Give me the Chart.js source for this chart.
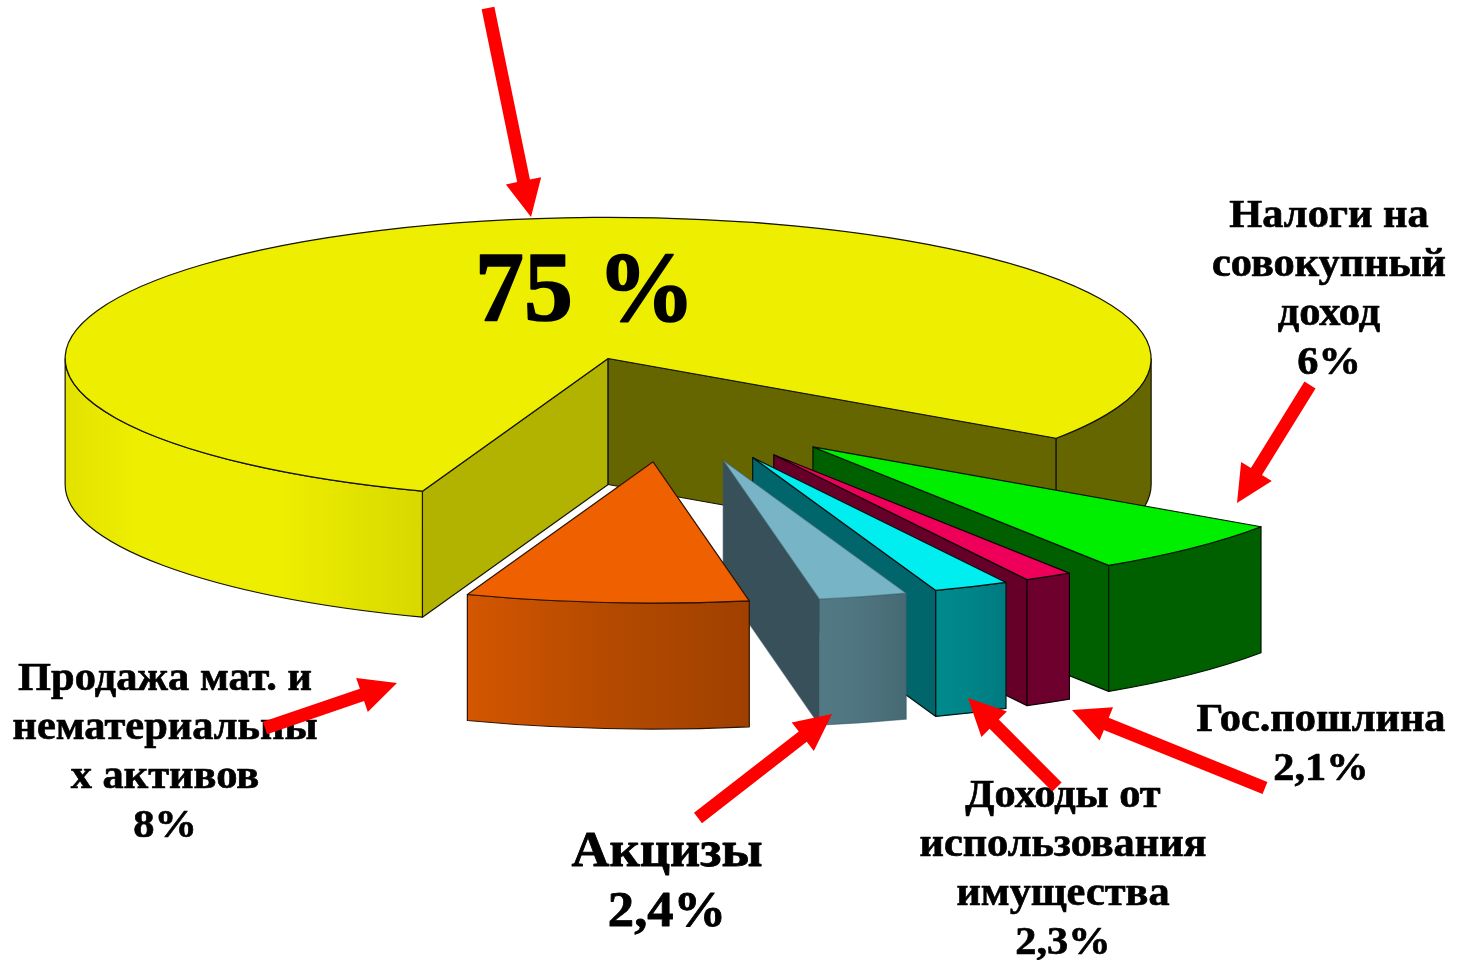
<!DOCTYPE html>
<html><head><meta charset="utf-8">
<style>html,body{margin:0;padding:0;background:#fff}canvas{display:block}</style>
<script src="https://cdn.jsdelivr.net/npm/chart.js@4"></script>
</head><body><canvas id="c" width="1465" height="960"></canvas>
<script>
// Categories in slice order (clockwise, starting at the front-left edge of the large slice)
const categories = ['Налоговые доходы', 'Налоги на совокупный доход', 'Гос.пошлина', 'Доходы от использования имущества', 'Акцизы', 'Продажа мат. и нематериальных активов'];
// Percentages printed on the chart
const printedPercents = ['75 %', '6%', '2,1%', '2,3%', '2,4%', '8%'];
// Slice sizes as actually drawn in the picture
const sliceShares = [79, 6.28, 1.44, 2.25, 2.64, 8.39];
const topColors = ['#eeee00', '#00ee00', '#ee005a', '#00eef0', '#76b4c6', '#ee6000'];
const startFaceColors = ['#b2b200', '#006000', '#660028', '#00666c', '#37505a', '#a04000'];
const endFaceColors = ['#666600', '#006000', '#660028', '#00666c', '#37505a', '#a04000'];
const wallLeftColors = ['#e2e200', '#006000', '#6e002e', '#008a8c', '#527a85', '#d45600'];
const wallMidColors = ['#eeee00', '#006000', '#6e002e', '#008488', '#4e747f', '#b44a00'];
const wallRightColors = ['#d8d800', '#006000', '#6e002e', '#007a80', '#466a74', '#a04000'];
const edgeColors = ['#141400', '#001400', '#140008', '#001414', 'rgba(60,90,100,.5)', '#301400'];

const SQUASH = 0.26, DEPTH = 126, EXPLODE = 204;
const labelBlocks = [
  {lines:['Налоги на','совокупный','доход'], pct:1, cx:1329, y0:227, lh:49, size:40, width:234},
  {lines:['Продажа мат. и','нематериальны','х активов'], pct:5, cx:165, y0:690, lh:49, size:40, width:305},
  {lines:['Акцизы'], pct:4, cx:667, y0:866, lh:60, size:50, width:191},
  {lines:['Доходы от','использования','имущества'], pct:3, cx:1063, y0:807, lh:49, size:40, width:287},
  {lines:['Гос.пошлина'], pct:2, cx:1321, y0:731, lh:49, size:40, width:249},
  {lines:[], pct:0, cx:585, y0:320, lh:0, size:100, width:220}
];
const arrows = [
  [488,8,531,217],[1310,385,1237,503],[265,728,397,683],[698,818,832,714],[1057,787,968,698],[1265,788,1072,710]
];

function visibleRanges(a1, a2){
  const out = [];
  for (let k=-2;k<=2;k++){
    const lo = Math.max(a1, k*2*Math.PI), hi = Math.min(a2, k*2*Math.PI+Math.PI);
    if (hi>lo) out.push([lo,hi]);
  }
  return out;
}
function drawSlice(ctx, arc, i){
  const mid = (arc.startAngle+arc.endAngle)/2, R = arc.outerRadius, ry = R*SQUASH;
  const cx = arc.x + Math.cos(mid)*EXPLODE, cy = arc.y + Math.sin(mid)*EXPLODE*SQUASH;
  const px = a => cx+Math.cos(a)*R, py = a => cy+Math.sin(a)*ry;
  const edge = edgeColors[i];
  ctx.lineWidth = 1.2; ctx.lineJoin='round';
  const face = (a, col) => {
    ctx.beginPath(); ctx.moveTo(cx,cy); ctx.lineTo(px(a),py(a)); ctx.lineTo(px(a),py(a)+DEPTH); ctx.lineTo(cx,cy+DEPTH); ctx.closePath();
    ctx.fillStyle = col; ctx.fill(); ctx.strokeStyle = edge; ctx.stroke();
  };
  if (Math.cos(arc.startAngle) < 0) face(arc.startAngle, startFaceColors[i]);
  if (Math.cos(arc.endAngle) > 0) face(arc.endAngle, endFaceColors[i]);
  visibleRanges(arc.startAngle, arc.endAngle).forEach(([lo,hi]) => {
    const x1 = px(hi), x2 = px(lo);
    ctx.beginPath();
    ctx.ellipse(cx,cy,R,ry,0,lo,hi);
    ctx.lineTo(px(hi),py(hi)+DEPTH);
    ctx.ellipse(cx,cy+DEPTH,R,ry,0,hi,lo,true);
    ctx.closePath();
    const dark = i===0 && lo % (2*Math.PI) < 1;
    if (dark) ctx.fillStyle = endFaceColors[0];
    else {
      const g = ctx.createLinearGradient(Math.min(x1,x2),0,Math.max(x1,x2),0);
      g.addColorStop(0,wallLeftColors[i]); g.addColorStop(i===0?0.2:0.5,wallMidColors[i]);
      if (i===0) g.addColorStop(0.6,wallMidColors[i]);
      g.addColorStop(1,wallRightColors[i]);
      ctx.fillStyle = g;
    }
    ctx.fill(); ctx.strokeStyle = edge; ctx.stroke();
  });
  // top surface: the library's arc element, placed on the tilted plane
  ctx.save();
  ctx.translate(cx, cy); ctx.scale(1, SQUASH); ctx.translate(-arc.x, -arc.y);
  arc.draw(ctx);
  ctx.restore();
  ctx.beginPath(); ctx.moveTo(cx,cy); ctx.ellipse(cx,cy,R,ry,0,arc.startAngle,arc.endAngle); ctx.closePath();
  ctx.strokeStyle = edge; ctx.stroke();
}
function drawArrow(ctx,[x1,y1,x2,y2]){
  const w=13, hw=36, hl=37, L=Math.hypot(x2-x1,y2-y1), ux=(x2-x1)/L, uy=(y2-y1)/L, nx=-uy, ny=ux;
  const bx=x2-ux*hl, by=y2-uy*hl;
  ctx.beginPath();
  ctx.moveTo(x1+nx*w/2,y1+ny*w/2); ctx.lineTo(bx+nx*w/2,by+ny*w/2);
  ctx.lineTo(bx+nx*hw/2,by+ny*hw/2); ctx.lineTo(x2,y2); ctx.lineTo(bx-nx*hw/2,by-ny*hw/2);
  ctx.lineTo(bx-nx*w/2,by-ny*w/2); ctx.lineTo(x1-nx*w/2,y1-ny*w/2); ctx.closePath();
  ctx.fillStyle='#ff0000'; ctx.fill();
}
function drawLabels(ctx){
  ctx.fillStyle='#000'; ctx.strokeStyle='#000'; ctx.textAlign='center'; ctx.textBaseline='alphabetic'; ctx.lineJoin='round';
  labelBlocks.forEach(b => {
    const lines = b.lines.concat(printedPercents[b.pct]);
    ctx.font = 'bold '+b.size+'px "Liberation Serif"';
    ctx.lineWidth = b.size/60;
    const sx = b.width/Math.max(...lines.map(s=>ctx.measureText(s).width));
    lines.forEach((s,j)=>{
      ctx.save(); ctx.translate(b.cx,b.y0+j*b.lh); ctx.scale(sx,1); ctx.fillText(s,0,0); ctx.strokeText(s,0,0); ctx.restore();
    });
  });
}
const pie3d = {
  id:'pie3d',
  beforeDatasetsDraw(chart){
    const ctx = chart.ctx;
    chart.getDatasetMeta(0).data.forEach((arc,i)=>drawSlice(ctx,arc,i));
    drawLabels(ctx);
    arrows.forEach(a=>drawArrow(ctx,a));
    return false;
  }
};
new Chart(document.getElementById('c'),{
  type:'pie',
  data:{labels:categories,datasets:[{data:sliceShares,backgroundColor:topColors,borderWidth:0}]},
  options:{
    responsive:false,animation:false,radius:543,rotation:200,
    layout:{padding:{right:124,bottom:142}},
    plugins:{legend:{display:false},tooltip:{enabled:false}},
    events:[]
  },
  plugins:[pie3d]
});
</script></body></html>
